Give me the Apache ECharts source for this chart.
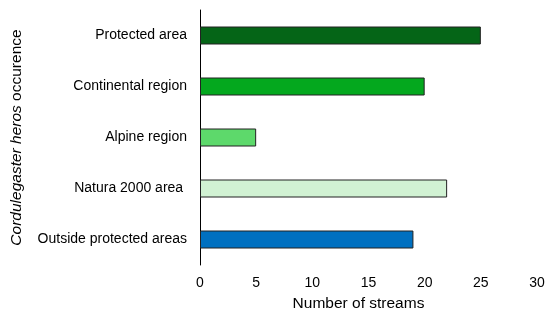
<!DOCTYPE html>
<html><head><meta charset="utf-8">
<script src="https://cdn.jsdelivr.net/npm/echarts@6/dist/echarts.min.js"></script>
<style>html,body{margin:0;padding:0;background:#fff}#c{width:550px;height:322px}</style>
</head><body><div id="c"></div>
<script>
const categories = ['Outside protected areas', 'Natura 2000 area ', 'Alpine region', 'Continental region', 'Protected area'];
const values = [19, 22, 5, 20, 25];
const colors = ['#0070C0', '#D1F2D3', '#5DD96B', '#04A81E', '#056517'];
const xTicks = [0, 5, 10, 15, 20, 25, 30];

const chart = echarts.init(document.getElementById('c'), null, {renderer: 'canvas'});
const font = 'Liberation Sans, Arial, sans-serif';
chart.setOption({
  animation: false,
  grid: {left: 200, right: 13, top: 10, bottom: 57, containLabel: false},
  xAxis: {
    type: 'value', min: xTicks[0], max: xTicks[xTicks.length - 1], interval: 5,
    axisLine: {show: false}, axisTick: {show: false}, splitLine: {show: false},
    axisLabel: {color: '#000', fontSize: 14, fontFamily: font, margin: 11},
    name: 'Number of streams', nameLocation: 'middle', nameGap: 31,
    nameTextStyle: {color: '#000', fontSize: 15.5, fontFamily: font, padding: [0, 20, 0, 0]}
  },
  yAxis: {
    type: 'category', data: categories,
    axisLine: {show: true, lineStyle: {color: '#000', width: 1}},
    axisTick: {show: false},
    axisLabel: {color: '#000', fontSize: 14, fontFamily: font, margin: 13},
    name: '{i|Cordulegaster heros} occurence', nameLocation: 'middle', nameRotate: 90, nameGap: 175,
    nameTextStyle: {color: '#000', fontSize: 15.5, fontFamily: font,
      rich: {i: {fontStyle: 'italic', fontSize: 15.5, fontFamily: font, color: '#000'}}}
  },
  series: [{
    type: 'bar', barWidth: 18,
    data: values.map((v, i) => ({value: v, itemStyle: {color: colors[i]}})),
    itemStyle: {borderColor: '#222', borderWidth: 1}
  }]
});
</script></body></html>
